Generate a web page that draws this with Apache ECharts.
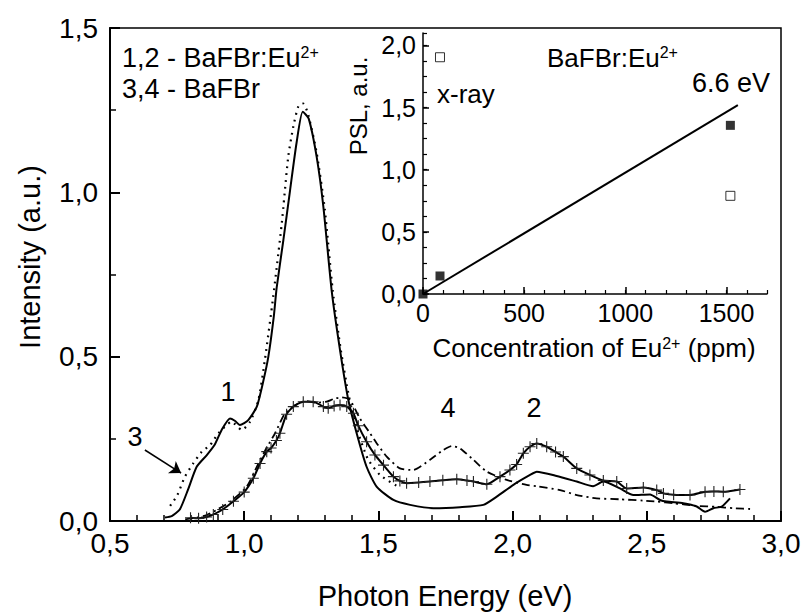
<!DOCTYPE html>
<html><head><meta charset="utf-8">
<script src="https://cdn.jsdelivr.net/npm/echarts@6/dist/echarts.min.js"></script>
<style>html,body{margin:0;padding:0;background:#fff}#c{width:805px;height:613px}</style>
</head><body><div id="c"></div>
<script>
const FONT = '"Liberation Sans", Arial, Helvetica, sans-serif';

// ---------- main panel: Photon Energy (eV) vs Intensity (a.u.) ----------
// curve 1 (solid, BaFBr:Eu2+)
const energy1 = [0.705,0.73,0.76,0.79,0.823,0.86,0.89,0.916,0.947,0.965,0.984,1.015,1.047,1.071,1.09,1.11,1.121,1.146,1.171,1.195,1.218,1.24,1.27,1.295,1.326,1.357,1.388,1.419,1.456,1.494,1.556,1.618,1.705,1.804,1.891,1.941,2.003,2.065,2.09,2.164,2.239,2.30,2.338,2.40,2.45,2.512,2.549,2.574,2.636,2.686,2.717,2.748,2.779,2.81];
const intensity1 = [0.011,0.015,0.035,0.094,0.165,0.20,0.232,0.277,0.312,0.305,0.292,0.307,0.348,0.425,0.50,0.62,0.71,0.855,1.007,1.15,1.245,1.225,1.108,0.956,0.70,0.52,0.368,0.267,0.165,0.104,0.064,0.049,0.039,0.042,0.049,0.074,0.11,0.14,0.15,0.137,0.12,0.106,0.12,0.099,0.079,0.081,0.064,0.059,0.054,0.044,0.028,0.039,0.044,0.069];

// curve 3 (dotted, BaFBr)
const energy3 = [0.724,0.751,0.779,0.81,0.842,0.873,0.904,0.953,0.991,1.022,1.053,1.077,1.108,1.14,1.164,1.183,1.202,1.22,1.239,1.27,1.30,1.33,1.36,1.39,1.42,1.46,1.506,1.574];
const intensity3 = [0.046,0.079,0.135,0.175,0.211,0.231,0.267,0.302,0.277,0.302,0.368,0.49,0.682,0.906,1.108,1.20,1.262,1.27,1.235,1.12,0.95,0.70,0.52,0.38,0.28,0.19,0.14,0.104];

// curve 2 (solid with crosses, BaFBr:Eu2+)
const energy2 = [0.80,0.83,0.86,0.885,0.92,0.96,1.00,1.034,1.059,1.084,1.10,1.12,1.133,1.158,1.183,1.22,1.257,1.295,1.313,1.335,1.357,1.382,1.407,1.425,1.456,1.487,1.519,1.556,1.58,1.605,1.65,1.692,1.74,1.792,1.83,1.854,1.904,1.953,1.99,2.015,2.04,2.065,2.09,2.127,2.16,2.189,2.239,2.288,2.338,2.388,2.425,2.487,2.537,2.562,2.60,2.661,2.717,2.75,2.785,2.847];
const intensity2 = [0.01,0.008,0.012,0.02,0.035,0.06,0.088,0.13,0.175,0.211,0.222,0.245,0.267,0.325,0.348,0.363,0.363,0.348,0.343,0.35,0.353,0.348,0.328,0.29,0.241,0.201,0.17,0.135,0.122,0.115,0.117,0.12,0.124,0.127,0.123,0.12,0.112,0.135,0.155,0.172,0.206,0.226,0.236,0.226,0.21,0.196,0.16,0.14,0.123,0.12,0.099,0.102,0.094,0.084,0.08,0.079,0.089,0.09,0.089,0.096];

// curve 4 (dash-dot, BaFBr)
const energy4 = [0.78,0.82,0.86,0.90,0.95,1.009,1.05,1.085,1.115,1.15,1.19,1.23,1.27,1.307,1.335,1.363,1.394,1.431,1.469,1.494,1.531,1.58,1.63,1.692,1.74,1.773,1.804,1.854,1.904,1.978,2.052,2.09,2.177,2.239,2.313,2.40,2.487,2.537,2.60,2.686,2.76,2.822,2.897];
const intensity4 = [0.005,0.01,0.018,0.035,0.06,0.104,0.17,0.225,0.267,0.325,0.352,0.365,0.36,0.363,0.372,0.376,0.368,0.312,0.267,0.236,0.196,0.16,0.155,0.186,0.215,0.228,0.221,0.186,0.15,0.125,0.11,0.106,0.094,0.079,0.069,0.066,0.062,0.059,0.054,0.046,0.043,0.039,0.036];

const mainXTicks = [0.5,1.0,1.5,2.0,2.5,3.0];
const mainYTicks = [0.0,0.5,1.0,1.5];

// ---------- inset: PSL vs Eu2+ concentration ----------
const concFilled = [0,84,1519];
const pslFilled = [0,0.145,1.357];
const concOpen = [84,1519];
const pslOpen = [1.905,0.79];
const fitConc = [0,1556];
const fitPSL = [0,1.52];
const insetXTicks = [0,500,1000,1500];
const insetYTicks = [0,0.5,1.0,1.5,2.0];

// arrow pointing at curve 3 (data coords)
const arrowFrom = [0.63,0.216];
const arrowTo = [0.765,0.146];

const zip = (a,b) => a.map((v,i)=>[v,b[i]]);
const comma1 = v => v.toFixed(1).replace('.', ',');

const chart = echarts.init(document.getElementById('c'), null, {renderer:'svg'});

const black = '#000';
const crossPath = 'path://M0,5L10,5M5,0L5,10';

chart.setOption({
  animation:false,
  backgroundColor:'#fff',
  grid:[
    {left:110, top:28, width:671, height:493, show:true, borderColor:black, borderWidth:1.5, backgroundColor:'transparent'},
    {left:423, top:33, width:344, height:261}
  ],
  xAxis:[
    {gridIndex:0, type:'value', position:'bottom', min:0.5, max:3.0, interval:0.5,
      axisLine:{lineStyle:{color:black,width:2}},
      axisTick:{inside:true,length:10,lineStyle:{color:black,width:2}},
      minorTick:{show:true,splitNumber:5,length:6,lineStyle:{color:black,width:1.5}},
      axisLabel:{customValues:mainXTicks, formatter:comma1, fontSize:28, color:black, fontFamily:FONT, margin:8},
      splitLine:{show:false}},
    {gridIndex:1, type:'value', position:'bottom', min:0, max:1700, interval:500,
      axisLine:{lineStyle:{color:black,width:1.5}},
      axisTick:{inside:true,length:7,customValues:insetXTicks,lineStyle:{color:black,width:1.5}},
      axisLabel:{customValues:insetXTicks, formatter:v=>String(v), fontSize:25, color:black, fontFamily:FONT, margin:6},
      splitLine:{show:false}},
    {gridIndex:1, type:'value', position:'bottom', min:0, max:1700, interval:100,
      axisLine:{show:false},
      axisTick:{inside:true,length:4,lineStyle:{color:black,width:1.2}},
      axisLabel:{show:false}, splitLine:{show:false}}
  ],
  yAxis:[
    {gridIndex:0, type:'value', position:'left', min:0, max:1.5, interval:0.5,
      axisLine:{show:true,lineStyle:{color:black,width:2}},
      axisTick:{show:true,inside:true,length:10,lineStyle:{color:black,width:2}},
      minorTick:{show:true,splitNumber:2,length:6,lineStyle:{color:black,width:1.5}},
      axisLabel:{customValues:mainYTicks, formatter:comma1, fontSize:28, color:black, fontFamily:FONT, margin:12},
      splitLine:{show:false}},
    {gridIndex:1, type:'value', position:'left', min:0, max:2.1, interval:0.5,
      axisLine:{show:true,lineStyle:{color:black,width:1.5}},
      axisTick:{show:true,inside:true,length:6,customValues:insetYTicks,lineStyle:{color:black,width:1.5}},
      axisLabel:{customValues:insetYTicks, formatter:comma1, fontSize:25, color:black, fontFamily:FONT, margin:7},
      splitLine:{show:false}},
    {gridIndex:1, type:'value', position:'left', min:0, max:2.1, interval:0.125,
      axisLine:{show:false},
      axisTick:{show:true,inside:true,length:4,lineStyle:{color:black,width:1.2}},
      axisLabel:{show:false}, splitLine:{show:false}}
  ],
  series:[
    {name:'1', type:'line', xAxisIndex:0, yAxisIndex:0, data:zip(energy1,intensity1), showSymbol:false, smooth:0.2,
      lineStyle:{color:black,width:2}, z:3},
    {name:'3', type:'line', xAxisIndex:0, yAxisIndex:0, data:zip(energy3,intensity3), showSymbol:false, smooth:0.2,
      lineStyle:{color:black,width:2.2,type:[1.8,5]}, z:2,
      markLine:{silent:true, symbol:['none','arrow'], symbolSize:11, precision:3,
        lineStyle:{color:black,width:1.5,type:'solid'}, label:{show:false},
        data:[[{coord:arrowFrom},{coord:arrowTo}]]}},
    {name:'2', type:'line', xAxisIndex:0, yAxisIndex:0, data:zip(energy2,intensity2), smooth:0.2,
      showSymbol:true, showAllSymbol:true, symbol:crossPath, symbolSize:11,
      itemStyle:{color:'transparent', borderColor:'#222', borderWidth:1.1},
      lineStyle:{color:black,width:2}, z:4},
    {name:'4', type:'line', xAxisIndex:0, yAxisIndex:0, data:zip(energy4,intensity4), showSymbol:false, smooth:0.2,
      lineStyle:{color:black,width:1.8,type:[8,4,2,4]}, z:2},
    {name:'fit', type:'line', xAxisIndex:1, yAxisIndex:1, data:zip(fitConc,fitPSL), showSymbol:false,
      lineStyle:{color:black,width:2}},
    {name:'6.6 eV', type:'scatter', xAxisIndex:1, yAxisIndex:1, data:zip(concFilled,pslFilled),
      symbol:'rect', symbolSize:9, itemStyle:{color:black}, z:5},
    {name:'x-ray', type:'scatter', xAxisIndex:1, yAxisIndex:1, data:zip(concOpen,pslOpen),
      symbol:'rect', symbolSize:9, itemStyle:{color:'#fff', borderColor:black, borderWidth:1}, z:5}
  ],
  graphic:[
    {type:'text', x:122, y:57.5, style:{text:'{a|1,2 - BaFBr:Eu}{s|2+}', verticalAlign:'middle', align:'left',
      rich:{a:{fontSize:27,fontFamily:FONT,fill:black}, s:{fontSize:16,fontFamily:FONT,fill:black,verticalAlign:'top'}}}},
    {type:'text', x:122, y:88.5, style:{text:'3,4 - BaFBr', fontSize:27, fontFamily:FONT, fill:black, verticalAlign:'middle', align:'left'}},
    {type:'text', x:228, y:392, style:{text:'1', fontSize:27, fontFamily:FONT, fill:black, verticalAlign:'middle', align:'center'}},
    {type:'text', x:135, y:437, style:{text:'3', fontSize:27, fontFamily:FONT, fill:black, verticalAlign:'middle', align:'center'}},
    {type:'text', x:448, y:408, style:{text:'4', fontSize:27, fontFamily:FONT, fill:black, verticalAlign:'middle', align:'center'}},
    {type:'text', x:534, y:408, style:{text:'2', fontSize:27, fontFamily:FONT, fill:black, verticalAlign:'middle', align:'center'}},
    {type:'text', x:445, y:596, style:{text:'Photon Energy (eV)', fontSize:29, fontFamily:FONT, fill:black, verticalAlign:'middle', align:'center'}},
    {type:'text', x:30, y:257, rotation:Math.PI/2, style:{text:'Intensity (a.u.)', fontSize:29, fontFamily:FONT, fill:black, verticalAlign:'middle', align:'center'}},
    {type:'text', x:358, y:106, rotation:Math.PI/2, style:{text:'PSL, a.u.', fontSize:24, fontFamily:FONT, fill:black, verticalAlign:'middle', align:'center'}},
    {type:'text', x:594, y:348, style:{text:'{a|Concentration of Eu}{s|2+}{a| (ppm)}', verticalAlign:'middle', align:'center',
      rich:{a:{fontSize:26,fontFamily:FONT,fill:black}, s:{fontSize:16,fontFamily:FONT,fill:black,verticalAlign:'top'}}}},
    {type:'text', x:547, y:57.5, style:{text:'{a|BaFBr:Eu}{s|2+}', verticalAlign:'middle', align:'left',
      rich:{a:{fontSize:26,fontFamily:FONT,fill:black}, s:{fontSize:16,fontFamily:FONT,fill:black,verticalAlign:'top'}}}},
    {type:'text', x:692, y:82.5, style:{text:'6.6 eV', fontSize:27, fontFamily:FONT, fill:black, verticalAlign:'middle', align:'left'}},
    {type:'text', x:437, y:93.5, style:{text:'x-ray', fontSize:26, fontFamily:FONT, fill:black, verticalAlign:'middle', align:'left'}}
  ]
});
</script>
</body></html>
